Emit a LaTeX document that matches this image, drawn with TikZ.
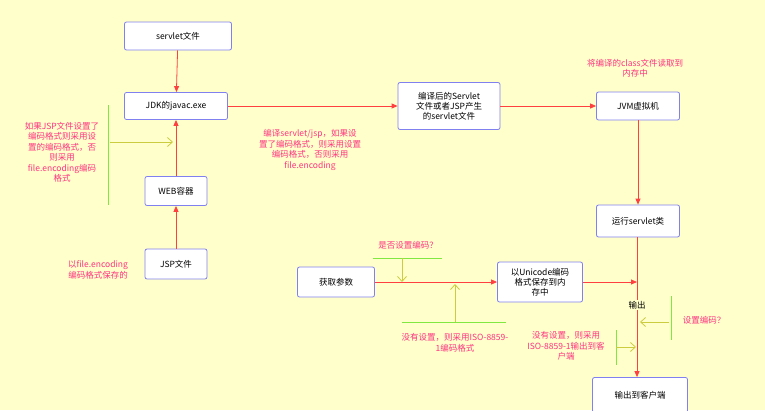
\documentclass[tikz,border=0pt]{standalone}
\usepackage{fontspec}
\setmainfont{Noto Sans CJK SC}
\usetikzlibrary{arrows.meta}
\definecolor{bg}{HTML}{FFFFCC}
\definecolor{boxline}{HTML}{8080F0}
\definecolor{note}{HTML}{FF3380}
\definecolor{flow}{HTML}{FF4040}
\definecolor{mark}{HTML}{80E840}
\definecolor{hint}{HTML}{CCCC40}
\tikzset{
  stepbox/.style={draw=boxline,thick,fill=white,rounded corners=2pt,align=center,font=\fontsize{8.5}{10}\selectfont,inner sep=2pt},
  flowline/.style={draw=flow,thick,-{Triangle[length=6pt,width=5pt]}},
  notetext/.style={text=note,align=center,font=\fontsize{8.5}{10.5}\selectfont},
  markline/.style={draw=mark,thick},
  hintline/.style={draw=hint,thick,-{Straight Barb[length=5pt,width=9pt]}}
}
\begin{document}
\begin{tikzpicture}[x=1pt,y=-1pt]
  \fill[bg] (0,0) rectangle (765,410);
  \useasboundingbox (0,0) rectangle (765,410);

  % boxes
  \node[stepbox,minimum width=107pt,minimum height=28pt] (servlet) at (178,36) {servlet文件};
  \node[stepbox,minimum width=103pt,minimum height=27pt] (javac) at (176,106) {JDK的javac.exe};
  \node[stepbox,minimum width=62pt,minimum height=29pt] (web) at (176,191) {WEB容器};
  \node[stepbox,minimum width=62pt,minimum height=30pt] (jsp) at (176,264) {JSP文件};
  \node[stepbox,minimum width=102pt,minimum height=47pt] (compiled) at (449,106) {编译后的Servlet\\文件或者JSP产生\\的servlet文件};
  \node[stepbox,minimum width=83pt,minimum height=28pt] (jvm) at (638,106) {JVM虚拟机};
  \node[stepbox,minimum width=83pt,minimum height=32pt] (run) at (638,221) {运行servlet类};
  \node[stepbox,minimum width=77pt,minimum height=30pt] (param) at (336,282) {获取参数};
  \node[stepbox,minimum width=85pt,minimum height=40pt] (unicode) at (540,282) {以Unicode编码\\格式保存到内\\存中};
  \node[stepbox,minimum width=95pt,minimum height=35pt] (client) at (640,395) {输出到客户端};
  \coordinate (join) at (637,282);

  % flow
  \draw[flowline] (servlet) -- (javac);
  \draw[flowline] (jsp) -- (web);
  \draw[flowline] (web) -- (javac);
  \draw[flowline] (javac) -- (compiled);
  \draw[flowline] (compiled) -- (jvm);
  \draw[flowline] (jvm) -- (run);
  \draw[flowline] (param) -- (unicode);
  \draw[flowline] (unicode) -- (join);
  \draw[flowline] (run.south -| join) -- (client.north -| join);

  % notes
  \node[notetext] (notea) at (62,152) {如果JSP文件设置了\\编码格式则采用设\\置的编码格式，否\\则采用\\file.encoding编码\\格式};
  \draw[markline] (108,105) -- (108,205);
  \draw[hintline] (110,142) -- (173,142);
  \node[notetext] (noteb) at (310,150) {编译servlet/jsp，如果设\\置了编码格式，则采用设置\\编码格式，否则采用\\file.encoding};
  \node[notetext] (notec) at (98,270) {以file.encoding\\编码格式保存的};
  \node[notetext] (noted) at (635,68) {将编译的class文件读取到\\内存中};
  \node[notetext] (notee) at (408,245) {是否设置编码？};
  \draw[markline] (373,258) -- (442,258);
  \draw[hintline] (402,258) -- (402,282);
  \draw[markline] (402,322) -- (506,322);
  \draw[hintline] (455,322) -- (455,284);
  \node[notetext] (notef) at (455,343) {没有设置，则采用ISO-8859-\\1编码格式};
  \node[fill=bg,inner sep=1pt,font=\fontsize{8.5}{10}\selectfont] (out) at (637,305) {输出};
  \draw[markline] (671,296) -- (671,340);
  \draw[hintline] (669,322) -- (640,322);
  \node[notetext] (noteg) at (704,320) {设置编码？};
  \draw[markline] (616,330) -- (616,365);
  \draw[hintline] (616,347) -- (636,347);
  \node[notetext] (noteh) at (566,346) {没有设置，则采用\\ISO-8859-1输出到客\\户端};
\end{tikzpicture}
\end{document}
